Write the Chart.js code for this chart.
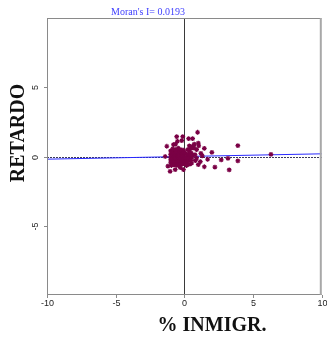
<!DOCTYPE html>
<html>
<head>
<meta charset="utf-8">
<script src="https://cdn.jsdelivr.net/npm/chart.js@4"></script>
<style>
  html, body { margin: 0; padding: 0; background: #fff; }
  #wrap { width: 327px; height: 338px; }
</style>
</head>
<body>
<div id="wrap"><canvas id="moran" width="327" height="338"></canvas></div>
<script>
// Moran scatter: % INMIGR. (x) vs spatial lag RETARDO (y)
const TITLE = "Moran's I= 0.0193";
const X_LABEL = "% INMIGR.";
const Y_LABEL = "RETARDO";
const MORAN_I = 0.0193;
const xTicks = [-10, -5, 0, 5, 10];
const yTicks = [-5, 0, 5];

// points (x, lag)
const xVals = [
  // dense core
  -1.0, -0.9, -0.8, -0.7, -0.6, -0.5, -0.4, -0.3, -0.2, -0.1,
  -1.0, -0.9, -0.8, -0.7, -0.6, -0.5, -0.4, -0.3, -0.2, -0.1,
  -1.0, -0.9, -0.8, -0.7, -0.6, -0.5, -0.4, -0.3, -0.2, -0.1,
  -1.0, -0.9, -0.8, -0.7, -0.6, -0.5, -0.4, -0.3, -0.2, -0.1,
  -1.0, -0.9, -0.8, -0.7, -0.6, -0.5, -0.4, -0.3, -0.2, -0.1,
  -0.95, -0.75, -0.55, -0.35, -0.15, -0.85, -0.65, -0.45, -0.25, -0.05,
  0.0, 0.1, 0.2, 0.05, 0.15, 0.25, 0.0, 0.1, 0.2, 0.3,
  0.35, 0.4, 0.3, 0.45, 0.5, 0.25, 0.4, 0.55, 0.6, 0.15,
  // fringe
  -1.28, -0.8, -0.51, -0.19, -1.4, -1.2, -1.04, -0.67, -0.07, -0.3,
  -0.65, -0.56, -0.12, 0.31, 0.6, 0.36, 0.67, 0.53, 0.72, 1.01,
  0.89, 0.77, 0.89, 0.53, 1.01, 0.96, 1.04, 1.2, 1.45, 1.16,
  1.69, 2.0, 1.45, 2.22, 2.68, 3.17, 3.26, 3.89, 3.89, 6.3,
  0.7, 0.45, 0.2, 0.8, 1.3
];
const yVals = [
  0.4, 0.35, 0.4, 0.3, 0.35, 0.4, 0.3, 0.35, 0.25, 0.3,
  0.15, 0.2, 0.1, 0.15, 0.2, 0.1, 0.15, 0.05, 0.1, 0.15,
  -0.05, 0.0, -0.1, 0.0, -0.05, -0.1, 0.0, -0.05, -0.1, 0.0,
  -0.25, -0.2, -0.3, -0.2, -0.25, -0.3, -0.2, -0.25, -0.3, -0.2,
  -0.45, -0.5, -0.4, -0.5, -0.45, -0.4, -0.5, -0.45, -0.4, -0.5,
  -0.65, -0.6, -0.65, -0.6, -0.55, 0.55, 0.5, 0.6, 0.5, 0.45,
  0.3, 0.2, 0.1, -0.1, -0.2, 0.0, -0.4, -0.5, -0.35, 0.15,
  0.4, 0.05, -0.15, -0.3, 0.25, 0.5, -0.55, -0.1, 0.1, -0.65,
  0.74, 0.85, 1.1, 1.14, 0.0, -0.7, -1.07, -0.95, -0.95, -0.8,
  0.9, 1.43, 1.43, 1.29, 1.29, 0.76, 0.8, 0.61, 0.9, 0.97,
  0.49, 0.13, -0.11, -0.47, -0.59, 1.75, 0.76, 0.23, 0.59, -0.37,
  -0.2, 0.3, -0.74, -0.76, -0.25, -0.13, -0.97, 0.78, -0.32, 0.16,
  0.6, 0.7, -0.6, -0.3, 0.05
];
const fitX = [-10, 10];

const points = xVals.map((x, i) => ({ x: x, y: yVals[i] }));
const fitLine = fitX.map(x => ({ x: x, y: MORAN_I * x }));

// frame, axes through the origin, ticks and texts
const moranFrame = {
  id: 'moranFrame',
  beforeDatasetsDraw(chart) {
    const { ctx, chartArea: a, scales: { x, y } } = chart;
    ctx.save();
    const x0 = Math.round(x.getPixelForValue(0)) + 0.5;
    const y0 = Math.round(y.getPixelForValue(0)) + 0.5;
    ctx.strokeStyle = '#3a3a3a';
    ctx.lineWidth = 1;
    ctx.beginPath();
    ctx.moveTo(x0, a.top); ctx.lineTo(x0, a.bottom);
    ctx.stroke();
    ctx.setLineDash([2, 1]);
    ctx.strokeStyle = '#3a3a5a';
    ctx.beginPath();
    ctx.moveTo(a.left, y0); ctx.lineTo(a.right, y0);
    ctx.stroke();
    ctx.restore();
  },
  afterDraw(chart) {
    const { ctx, chartArea: a, scales: { x, y } } = chart;
    ctx.save();
    // box
    ctx.strokeStyle = '#8a8a8a';
    ctx.lineWidth = 1;
    ctx.beginPath();
    ctx.moveTo(a.left + 0.5, a.top + 0.5);
    ctx.lineTo(a.right - 0.5, a.top + 0.5);
    ctx.moveTo(a.left + 0.5, a.top);
    ctx.lineTo(a.left + 0.5, a.bottom);
    ctx.moveTo(a.left, a.bottom - 0.5);
    ctx.lineTo(a.right, a.bottom - 0.5);
    ctx.stroke();
    ctx.strokeStyle = '#a8a8a8';
    ctx.lineWidth = 2;
    ctx.beginPath();
    ctx.moveTo(a.right - 1, a.top); ctx.lineTo(a.right - 1, a.bottom);
    ctx.stroke();

    // x ticks
    ctx.lineWidth = 1;
    ctx.strokeStyle = '#8a8a8a';
    ctx.fillStyle = '#222';
    ctx.font = '9px "Liberation Sans", sans-serif';
    ctx.textAlign = 'center';
    ctx.textBaseline = 'top';
    xTicks.forEach(v => {
      const px = Math.round(x.getPixelForValue(v)) + 0.5;
      ctx.beginPath();
      ctx.moveTo(px, a.bottom); ctx.lineTo(px, a.bottom + 3);
      ctx.stroke();
      ctx.fillText(String(v), px, a.bottom + 4);
    });
    // y ticks, rotated labels
    yTicks.forEach(v => {
      const py = Math.round(y.getPixelForValue(v)) + 0.5;
      ctx.beginPath();
      ctx.moveTo(a.left - 3, py); ctx.lineTo(a.left, py);
      ctx.stroke();
      ctx.save();
      ctx.translate(a.left - 11, py);
      ctx.rotate(-Math.PI / 2);
      ctx.textBaseline = 'middle';
      ctx.fillText(String(v), 0, 0);
      ctx.restore();
    });

    // title
    ctx.fillStyle = '#4040ff';
    ctx.font = '10px "Liberation Serif", serif';
    ctx.textBaseline = 'alphabetic';
    ctx.fillText(TITLE, 148, 15);

    // axis names
    ctx.fillStyle = '#111';
    ctx.font = 'bold 20px "Liberation Serif", serif';
    ctx.fillText(X_LABEL, 212, 331);
    ctx.save();
    ctx.translate(24, 133);
    ctx.rotate(-Math.PI / 2);
    ctx.fillText(Y_LABEL, 0, 0);
    ctx.restore();
    ctx.restore();
  }
};

new Chart(document.getElementById('moran').getContext('2d'), {
  type: 'scatter',
  data: {
    datasets: [
      {
        data: fitLine,
        type: 'line',
        borderColor: '#2a2aff',
        borderWidth: 1,
        pointRadius: 0,
        fill: false,
        order: 2
      },
      {
        data: points,
        pointStyle: 'star',
        pointRadius: 2.4,
        borderWidth: 1.2,
        borderColor: '#7a0045',
        backgroundColor: '#7a0045',
        order: 1
      }
    ]
  },
  options: {
    responsive: false,
    animation: false,
    layout: { padding: { left: 47, top: 18, right: 4, bottom: 43 } },
    scales: {
      x: { type: 'linear', min: -10, max: 10, display: false },
      y: { type: 'linear', min: -10, max: 10, display: false }
    },
    plugins: { legend: { display: false }, tooltip: { enabled: false } }
  },
  plugins: [moranFrame]
});
</script>
</body>
</html>
